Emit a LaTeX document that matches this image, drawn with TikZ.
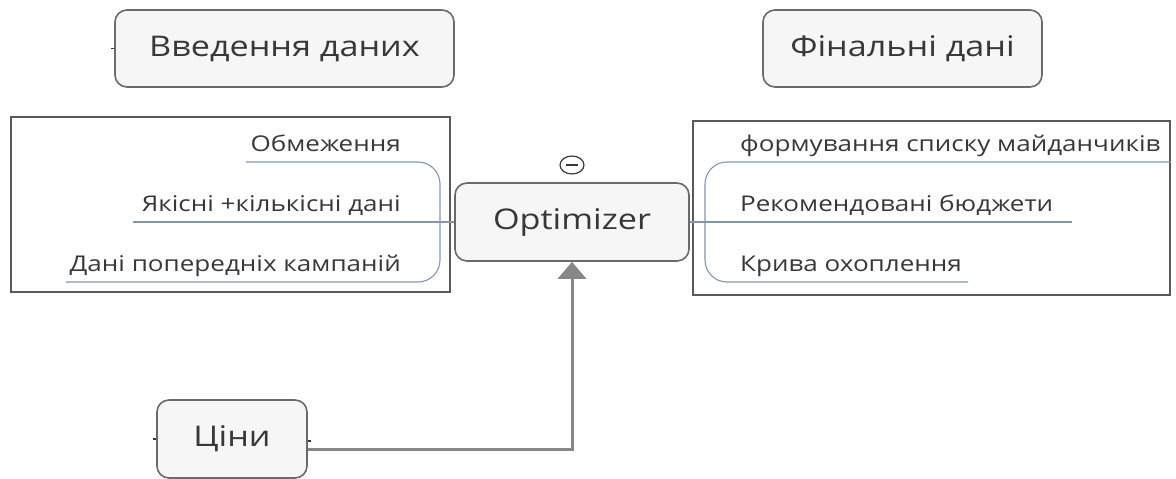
\documentclass[tikz,border=0pt]{standalone}
\usepackage{fontspec}
\setmainfont[FakeStretch=1.2]{Open Sans}
\usetikzlibrary{arrows.meta,calc,shapes.geometric}
\definecolor{boxfill}{HTML}{F6F6F6}
\definecolor{boxline}{HTML}{6A6A6A}
\definecolor{ink}{HTML}{383838}
\definecolor{branch}{HTML}{7F98B0}
\definecolor{frameline}{HTML}{5A5A5A}
\definecolor{flow}{HTML}{878787}
\begin{document}
\begin{tikzpicture}[x=1pt,y=-1pt,
  topic/.style={draw=boxline,line width=1.6pt,fill=boxfill,rounded corners=12pt,
    text=ink,font=\fontsize{28.5}{30}\selectfont,inner sep=0pt},
  frame/.style={draw=frameline,line width=1.5pt,inner sep=0pt},
  item/.style={text=ink,font=\fontsize{21.7}{24}\selectfont,inner sep=0pt},
  limb/.style={draw=branch,line width=1.1pt},
  tick/.style={draw=ink,line width=1.2pt},
  flowline/.style={draw=flow,line width=3pt,-{Triangle[width=28pt,length=17pt]}}]
\useasboundingbox (0,0) rectangle (1176,479);

% frames around the input and output branches
\node[frame,minimum width=439pt,minimum height=175pt] (inframe) at (230.5,204.5) {};
\node[frame,minimum width=477pt,minimum height=174pt] (outframe) at (931.5,208) {};

% topic boxes
\node[topic,minimum width=339pt,minimum height=77pt] (input) at (284.5,48.5) {Введення даних};
\node[topic,minimum width=279pt,minimum height=77pt] (final) at (902.5,48.5) {Фінальні дані};
\node[topic,minimum width=234pt,minimum height=78pt] (opt) at (572,222) {Optimizer};
\node[topic,minimum width=150pt,minimum height=78pt] (price) at (232,439) {Ціни};

% small handles on the topic edges
\draw[tick] ($(input.west)+(-3,0)$) -- (input.west);
\draw[tick] ($(price.west)+(-3,0)$) -- (price.west);
\draw[tick] ($(price.east)+(0,2)$) -- ($(price.east)+(3,2)$);

% collapse marker above the central topic
\node[ellipse,draw=ink,line width=1.2pt,minimum width=24pt,minimum height=18pt,inner sep=0pt] (fold) at (572,165) {};
\draw[ink,line width=1.4pt] ($(fold.center)+(-6,0)$) -- ($(fold.center)+(6,0)$);

% input items
\node[item,anchor=base east] (i1) at (401,151) {Обмеження};
\node[item,anchor=base east] (i2) at (401,211) {Якісні +кількісні дані};
\node[item,anchor=base east] (i3) at (401,271) {Дані попередніх кампаній};

% output items
\node[item,anchor=base west] (o1) at (740,151) {формування списку майданчиків};
\node[item,anchor=base west] (o2) at (740,211) {Рекомендовані бюджети};
\node[item,anchor=base west] (o3) at (740,271) {Крива охоплення};

% branch lines of the inputs
\coordinate (lb) at (440,222);
\draw[limb,rounded corners=22pt] (246,162) -- (lb |- 0,162) -- (lb |- 0,282) -- (66,282);
\draw[limb] (133,222) -- (opt.west);

% branch lines of the outputs
\coordinate (rb) at (705,222);
\draw[limb,rounded corners=22pt] (outframe.east |- 0,162) -- (rb |- 0,162) -- (rb |- 0,282) -- (968,282);
\draw[limb] (opt.east) -- (1072,222);

% prices feed into the optimizer
\coordinate (pout) at ($(price.east)+(0,10)$);
\draw[flowline] (pout) -| (opt.south);
\end{tikzpicture}
\end{document}
